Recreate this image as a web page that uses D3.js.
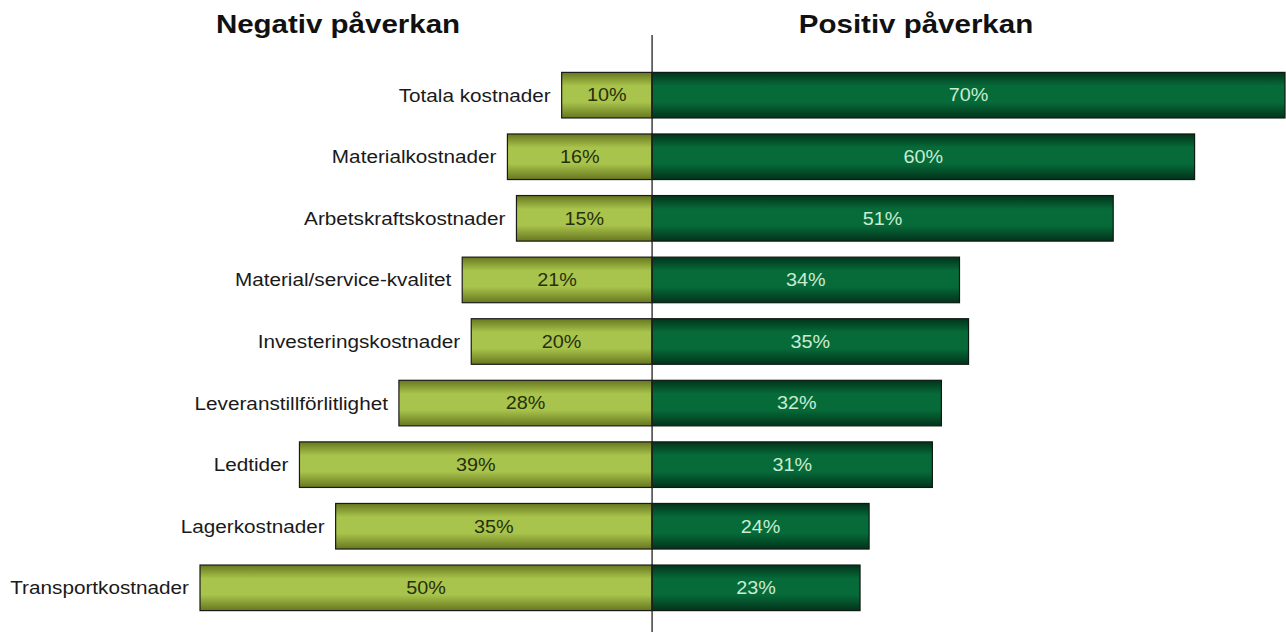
<!DOCTYPE html>
<html>
<head>
<meta charset="utf-8">
<script src="https://cdn.jsdelivr.net/npm/d3@7"></script>
<style>
  body { margin: 0; background: #fff; }
  text { font-family: "Liberation Sans", Arial, sans-serif; }
</style>
</head>
<body>
<div id="chart"></div>
<script>
// data
var categories = ["Totala kostnader", "Materialkostnader", "Arbetskraftskostnader",
  "Material/service-kvalitet", "Investeringskostnader", "Leveranstillförlitlighet",
  "Ledtider", "Lagerkostnader", "Transportkostnader"];
var negative = [10, 16, 15, 21, 20, 28, 39, 35, 50];
var positive = [70, 60, 51, 34, 35, 32, 31, 24, 23];

var width = 1286, height = 632;

var svg = d3.select("#chart")
  .append("svg")
    .attr("width", width)
    .attr("height", height);

// scales
var x = d3.scaleLinear()
  .domain([-50, 70])
  .range([200, 1285]);

var y = d3.scaleBand()
  .domain(categories)
  .range([65, 618])
  .paddingInner(0.26)
  .paddingOuter(0.12);

// gradients - darker at top and bottom edges
var defs = svg.append("defs");
function grad(id, edge, mid) {
  var g = defs.append("linearGradient")
    .attr("id", id)
    .attr("x1", 0).attr("y1", 0).attr("x2", 0).attr("y2", 1);
  g.append("stop").attr("offset", "0%").attr("stop-color", edge);
  g.append("stop").attr("offset", "30%").attr("stop-color", mid);
  g.append("stop").attr("offset", "65%").attr("stop-color", mid);
  g.append("stop").attr("offset", "100%").attr("stop-color", edge);
}
grad("gNeg", "#67771f", "#a9c44c");
grad("gPos", "#02331b", "#066b39");

var rows = categories.map(function(c, i) {
  return {name: c, neg: negative[i], pos: positive[i]};
});

// the text in the picture is a bit stretched sideways
function stretch(sx) {
  return function(d) { return "translate(" + d.tx + "," + d.ty + ") scale(" + sx + ",1)"; };
}

// negative bars
svg.selectAll(".neg")
  .data(rows)
  .enter()
  .append("rect")
  .attr("class", "neg")
  .attr("x", function(d) { return x(-d.neg); })
  .attr("y", function(d) { return y(d.name); })
  .attr("width", function(d) { return x(0) - x(-d.neg); })
  .attr("height", y.bandwidth())
  .style("fill", "url(#gNeg)")
  .style("stroke", "#1a1a1a")
  .style("stroke-width", 1.2);

// positive bars
svg.selectAll(".pos")
  .data(rows)
  .enter()
  .append("rect")
  .attr("class", "pos")
  .attr("x", x(0))
  .attr("y", function(d) { return y(d.name); })
  .attr("width", function(d) { return x(d.pos) - x(0); })
  .attr("height", y.bandwidth())
  .style("fill", "url(#gPos)")
  .style("stroke", "#0d1a10")
  .style("stroke-width", 1.2);

// center line
svg.append("line")
  .attr("x1", x(0)).attr("x2", x(0))
  .attr("y1", 35).attr("y2", height)
  .style("stroke", "#222")
  .style("stroke-width", 1.3);

// category labels
svg.selectAll(".cat")
  .data(rows.map(function(d) {
    return {t: d.name, tx: x(-d.neg) - 11, ty: y(d.name) + y.bandwidth() / 2};
  }))
  .enter()
  .append("text")
  .attr("transform", stretch(1.12))
  .attr("dy", "0.35em")
  .attr("text-anchor", "end")
  .attr("font-size", "18.5px")
  .attr("fill", "#1a1a1a")
  .text(function(d) { return d.t; });

// value labels
svg.selectAll(".negval")
  .data(rows.map(function(d) {
    return {t: d.neg + "%", tx: (x(-d.neg) + x(0)) / 2, ty: y(d.name) + y.bandwidth() / 2};
  }))
  .enter()
  .append("text")
  .attr("transform", stretch(1.1))
  .attr("dy", "0.35em")
  .attr("text-anchor", "middle")
  .attr("font-size", "18px")
  .attr("fill", "#27300c")
  .text(function(d) { return d.t; });

svg.selectAll(".posval")
  .data(rows.map(function(d) {
    return {t: d.pos + "%", tx: (x(0) + x(d.pos)) / 2, ty: y(d.name) + y.bandwidth() / 2};
  }))
  .enter()
  .append("text")
  .attr("transform", stretch(1.1))
  .attr("dy", "0.35em")
  .attr("text-anchor", "middle")
  .attr("font-size", "18px")
  .attr("fill", "#c9ecd2")
  .text(function(d) { return d.t; });

// titles
svg.selectAll(".title")
  .data([{t: "Negativ påverkan", tx: 338, ty: 33}, {t: "Positiv påverkan", tx: 916, ty: 33}])
  .enter()
  .append("text")
  .attr("transform", stretch(1.18))
  .attr("text-anchor", "middle")
  .attr("font-size", "25px")
  .attr("font-weight", "bold")
  .attr("fill", "#111")
  .text(function(d) { return d.t; });
</script>
</body>
</html>
